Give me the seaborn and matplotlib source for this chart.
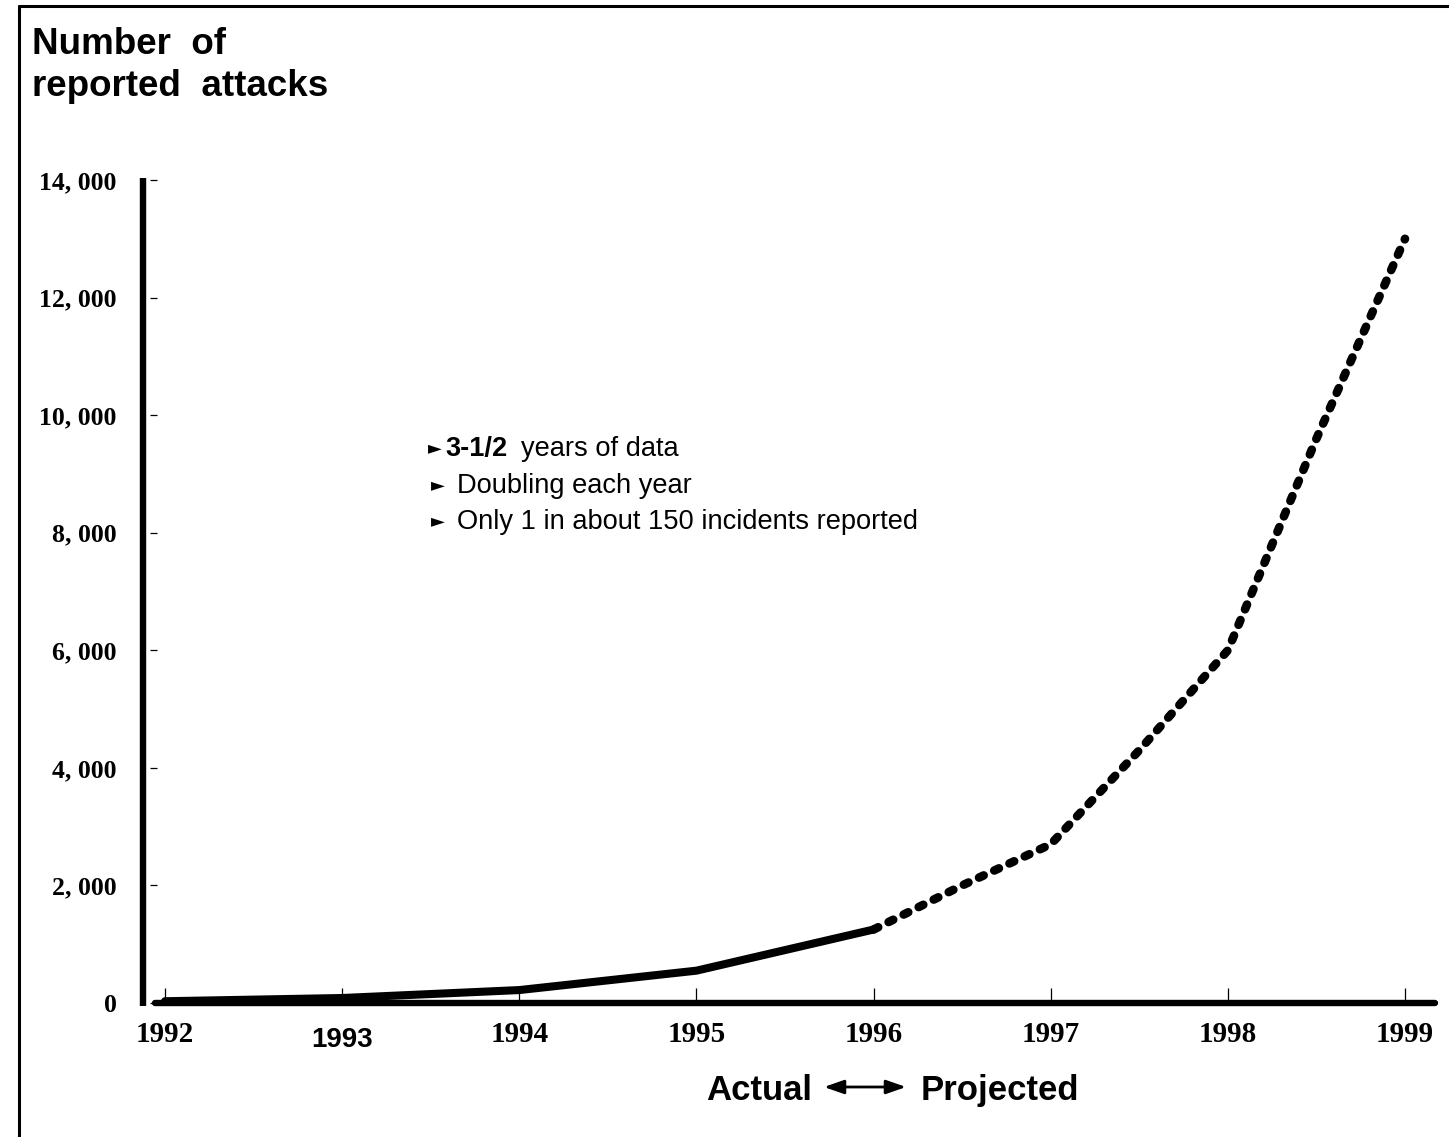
import numpy as np
import pandas as pd
import matplotlib
matplotlib.use("Agg")
import matplotlib.pyplot as plt
from matplotlib.lines import Line2D
from matplotlib.transforms import ScaledTranslation
import seaborn as sns

# =========================
# DATA
# =========================

actual_years = [1992, 1993, 1994, 1995, 1996]
actual_attacks = [30, 85, 220, 550, 1250]

projected_years = [1996, 1996.5, 1997, 1997.5, 1998, 1998.5, 1999]
projected_attacks = [1250, 2000, 2700, 4300, 6000, 9600, 13000]

year_ticks = [1992, 1993, 1994, 1995, 1996, 1997, 1998, 1999]
year_labels = ["1992", "1993", "1994", "1995", "1996", "1997", "1998", "1999"]

attack_ticks = [0, 2000, 4000, 6000, 8000, 10000, 12000, 14000]
attack_labels = ["0", "2, 000", "4, 000", "6, 000", "8, 000", "10, 000", "12, 000", "14, 000"]

bullets = ["years of data", "Doubling each year", "Only 1 in about 150 incidents reported"]

df_actual = pd.DataFrame({"year": actual_years, "attacks": actual_attacks})
df_proj = pd.DataFrame({"year": projected_years, "attacks": projected_attacks})

# =========================
# FIGURE
# =========================

sns.set_theme(style="white")
plt.rcParams["font.family"] = ["Liberation Sans", "DejaVu Sans"]
plt.rcParams["text.color"] = "black"
plt.rcParams["xtick.color"] = "black"
plt.rcParams["ytick.color"] = "black"
plt.rcParams["axes.labelcolor"] = "black"

W, H = 1449, 1137
fig = plt.figure(figsize=(W / 100, H / 100), dpi=100)


def fx(px):
    return px / W


def fy(py):
    return 1 - py / H


ax_left, ax_right, ax_top, ax_bot = 150, 1435, 180, 1003
ax = fig.add_axes([fx(ax_left), fy(ax_bot), fx(ax_right - ax_left), fy(ax_top) - fy(ax_bot)])

sns.lineplot(data=df_actual, x="year", y="attacks", ax=ax, color="black",
             linewidth=5.8, solid_capstyle="round")
sns.lineplot(data=df_proj, x="year", y="attacks", ax=ax, color="black",
             linewidth=6.2)
proj_line = ax.lines[-1]
proj_line.set_dashes((0.6, 1.35))
proj_line.set_dash_capstyle("round")

px_per_year = (1405 - 165) / 7
ax.set_xlim(1992 - (165 - ax_left) / px_per_year, 1999 + (ax_right - 1405) / px_per_year)
ax.set_ylim(0, 14000)

for s in ["top", "right"]:
    ax.spines[s].set_visible(False)
ax.spines["left"].set_linewidth(0)
ax.spines["bottom"].set_linewidth(4.6)
ax.spines["bottom"].set_color("black")
ax.spines["bottom"].set_capstyle("round")
ax.spines["bottom"].set_bounds(1992 - 10 / px_per_year, ax.get_xlim()[1])

ax.set_xticks(year_ticks)
ax.set_xticklabels(year_labels, family="Liberation Serif", fontweight="bold", fontsize=21)
ax.set_yticks(attack_ticks)
ax.set_yticklabels(attack_labels, family="Liberation Serif", fontweight="bold", fontsize=18.5)
ax.tick_params(axis="x", direction="in", length=11, width=0.9, color="black", pad=13)
ax.tick_params(axis="y", direction="in", length=5, width=0.9, color="black", pad=24, left=True)
ax.tick_params(axis="x", bottom=True)

# 1993 is set in a different face in the original, and sits a little lower
lab93 = ax.get_xticklabels()[1]
lab93.set_family("Liberation Sans")
lab93.set_fontsize(20)
lab93.set_transform(lab93.get_transform() + ScaledTranslation(0, -4 / 72, fig.dpi_scale_trans))

ax.set_xlabel("")
ax.set_ylabel("")
ax.grid(False)

# thick vertical axis bar
fig.add_artist(Line2D([fx(143), fx(143)], [fy(178), fy(1006)], color="black",
                      lw=4.6, solid_capstyle="butt"))

# outer frame
fig.add_artist(Line2D([fx(19), fx(W)], [fy(6), fy(6)], color="black", lw=2.2))
fig.add_artist(Line2D([fx(19), fx(19)], [fy(6), fy(H)], color="black", lw=2.2))

# =========================
# TEXT
# =========================

fig.text(fx(32), fy(27), "Number  of\nreported  attacks", ha="left", va="top",
         fontsize=26.5, fontweight="bold", linespacing=1.25)

base = [456, 493, 529]
tri_x = [428, 431, 431]
for i in range(3):
    fig.text(fx(tri_x[i]), fy(base[i] - 3), "\u25BA", family="DejaVu Sans",
             fontsize=13, ha="left", va="baseline")

t0 = fig.text(fx(445), fy(base[0]), "3-1/2", fontsize=19.6, fontweight="bold",
              ha="left", va="baseline")
fig.text(fx(457), fy(base[1]), bullets[1], fontsize=19.6, ha="left", va="baseline")
fig.text(fx(457), fy(base[2]), bullets[2], fontsize=19.6, ha="left", va="baseline")
fig.canvas.draw()
bb = t0.get_window_extent()
fig.text(bb.x1 / W + fx(14), fy(base[0]), bullets[0], fontsize=19.6, ha="left", va="baseline")

fig.text(fx(706), fy(1100), "Actual", fontsize=25, fontweight="bold", ha="left", va="baseline")
fig.text(fx(921), fy(1100), "Projected", fontsize=25, fontweight="bold", ha="left", va="baseline")
fig.add_artist(plt.Annotation("", xy=(fx(906), fy(1087)), xytext=(fx(824), fy(1087)),
                              xycoords="figure fraction", textcoords="figure fraction",
                              arrowprops=dict(arrowstyle="<|-|>,head_length=1.0,head_width=0.35",
                                              color="black", lw=2, shrinkA=0, shrinkB=0)))

plt.savefig("out.png", dpi=100)
